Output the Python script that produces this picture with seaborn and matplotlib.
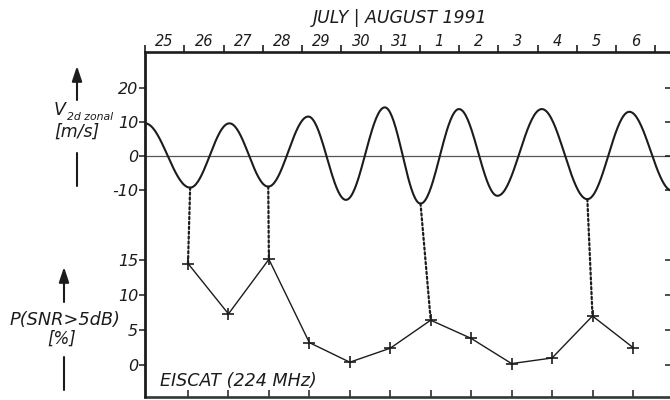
import numpy as np
import pandas as pd
import matplotlib
matplotlib.use("Agg")
import matplotlib.pyplot as plt
import seaborn as sns
from matplotlib.patches import ConnectionPatch, FancyArrowPatch
from matplotlib.lines import Line2D

# ---------------- data ----------------
day_labels = ["25", "26", "27", "28", "29", "30", "31", "1", "2", "3", "4", "5", "6"]
# extrema of the 2-day-wave zonal wind (days after 25 July 00 UT, m/s)
ext_day = [0.00, 1.15, 2.15, 3.14, 4.16, 5.12, 6.11, 7.02, 8.00, 8.98, 10.11, 11.27, 12.34, 13.43]
ext_val = [9.6, -9.3, 9.6, -9.0, 11.6, -12.9, 14.3, -14.0, 13.8, -11.7, 13.8, -12.7, 13.0, -10.2]
# daily EISCAT occurrence P(SNR>5dB) in %
p_index = [1, 2, 3, 4, 5, 6, 7, 8, 9, 10, 11, 12]
p_val = [14.5, 7.3, 15.1, 3.2, 0.4, 2.4, 6.4, 3.8, 0.2, 1.0, 7.0, 2.5]
# dotted links: (wave extremum index, P point index)
links = [(1, 0), (3, 2), (7, 6), (11, 10)]
v_ticks = [20, 10, 0, -10]
p_ticks = [15, 10, 5, 0]

# smooth curve through the read extrema (half-cosine segments)
t_list, v_list = [], []
for i in range(len(ext_day) - 1):
    s = np.linspace(0, 1, 40, endpoint=False)
    t_list.append(ext_day[i] + s * (ext_day[i + 1] - ext_day[i]))
    v_list.append(ext_val[i] + (ext_val[i + 1] - ext_val[i]) * (1 - np.cos(np.pi * s)) / 2)
t_list.append([ext_day[-1]]); v_list.append([ext_val[-1]])
wave = pd.DataFrame({"day": np.concatenate(t_list), "v": np.concatenate(v_list)})
pdf = pd.DataFrame({"idx": p_index, "p": p_val})

# ---------------- figure ----------------
sns.set_theme(style="white")
plt.rcParams["font.family"] = ["DejaVu Sans"]
plt.rcParams["font.style"] = "italic"
INK = "#1c1c1c"

W, H = 670, 400
fig = plt.figure(figsize=(6.7, 4.0), dpi=100)
fig.patch.set_facecolor("white")

def fx(x):
    return x / W

def fy(y):
    return 1 - y / H

L, R, T, M, B = 145, 672, 52, 222, 397
ax_top = fig.add_axes([fx(L), fy(M), (R - L) / W, (M - T) / H])
ax_bot = fig.add_axes([fx(L), fy(B), (R - L) / W, (B - M) / H])

# scales
ax_top.set_xlim(0, (R - L) / 39.25)
ax_top.set_ylim(-(M - 156) / 3.4, (156 - T) / 3.4)
ax_bot.set_xlim(1 - 43 / 40.45, 1 + (R - 188) / 40.45)
ax_bot.set_ylim(-(B - 365) / 7.0, (365 - M) / 7.0)

for ax in (ax_top, ax_bot):
    ax.set_facecolor("none")
    for sp in ax.spines.values():
        sp.set_color(INK)
        sp.set_linewidth(1.9)
    ax.spines["left"].set_visible(False)
ax_top.spines["bottom"].set_visible(False)
ax_bot.spines["top"].set_visible(False)
ax_bot.spines["bottom"].set_color("#2e3a33")
# one continuous left frame line
fig.add_artist(Line2D([fx(L), fx(L)], [fy(T - 1), fy(B + 1)], transform=fig.transFigure,
                      color=INK, lw=2.0, solid_capstyle="butt"))

# zero line and wave
ax_top.axhline(0, color="#555555", lw=0.9, zorder=1)
sns.lineplot(data=wave, x="day", y="v", ax=ax_top, color=INK, lw=1.5, zorder=3)

# P curve
sns.lineplot(data=pdf, x="idx", y="p", ax=ax_bot, color=INK, lw=1.0,
             marker="+", markersize=8, markeredgewidth=1.2, markeredgecolor=INK, zorder=3)

# dotted connections
for ei, pi in links:
    con = ConnectionPatch(xyA=(ext_day[ei], ext_val[ei]), coordsA=ax_top.transData,
                          xyB=(p_index[pi], p_val[pi]), coordsB=ax_bot.transData,
                          linestyle=(0, (1, 1.2)), lw=1.6, color=INK, zorder=2)
    fig.add_artist(con)

# top date axis
ax_top.xaxis.tick_top()
ax_top.set_xticks(range(0, 14))
ax_top.set_xticks([i + 0.5 for i in range(len(day_labels))], minor=True)
ax_top.set_xticklabels([], minor=False)
ax_top.set_xticklabels(day_labels, minor=True)
ax_top.tick_params(axis="x", which="major", direction="out", length=5, width=1.2,
                   color=INK, top=True, bottom=False)
ax_top.tick_params(axis="x", which="minor", length=0, pad=2, labelsize=10.5,
                   labelcolor=INK, top=True, bottom=False, labeltop=True)
ax_top.set_xlabel(""); ax_top.set_ylabel("")

ax_top.set_yticks(v_ticks)
ax_top.set_yticklabels([str(v) for v in v_ticks])
ax_top.tick_params(axis="y", direction="out", length=4, width=1.1, color=INK,
                   labelsize=11.5, labelcolor=INK, pad=1, left=True)

ax_bot.set_xticks(p_index)
ax_bot.set_xticklabels([])
ax_bot.tick_params(axis="x", direction="in", length=5, width=1.1, color=INK, bottom=True)
ax_bot.set_yticks(p_ticks)
ax_bot.set_yticklabels([str(v) for v in p_ticks])
ax_bot.tick_params(axis="y", direction="out", length=4, width=1.1, color=INK,
                   labelsize=11.5, labelcolor=INK, pad=1, left=True)
ax_bot.set_xlabel(""); ax_bot.set_ylabel("")

# right-hand inward ticks
for ax, tk in ((ax_top, v_ticks), (ax_bot, p_ticks)):
    tw = ax.twinx()
    tw.set_ylim(ax.get_ylim())
    tw.set_yticks(tk)
    tw.set_yticklabels([])
    tw.tick_params(axis="y", direction="in", length=5, width=1.1, color=INK)
    for sp in tw.spines.values():
        sp.set_visible(False)
    tw.grid(False)

for ax in (ax_top, ax_bot):
    ax.grid(False)
    for lab in ax.get_xticklabels(minor=True) + ax.get_yticklabels():
        lab.set_fontstyle("italic")

# texts
fig.text(fx(400), fy(18), "JULY | AUGUST 1991", ha="center", va="center",
         fontsize=12.4, style="italic", color=INK)
fig.text(fx(160), fy(381), "EISCAT (224 MHz)", ha="left", va="center",
         fontsize=12.6, style="italic", color=INK)

fig.text(fx(60), fy(110), "V", ha="center", va="center", fontsize=12.5, style="italic", color=INK)
fig.text(fx(67), fy(117), "2d zonal", ha="left", va="center", fontsize=7.8, style="italic", color=INK)
fig.text(fx(77), fy(132), "[m/s]", ha="center", va="center", fontsize=12.5, style="italic", color=INK)
fig.text(fx(65), fy(320), "P(SNR>5dB)", ha="center", va="center", fontsize=12.8, style="italic", color=INK)
fig.text(fx(62), fy(339), "[%]", ha="center", va="center", fontsize=12, style="italic", color=INK)

arrow_kw = dict(arrowstyle="-|>,head_length=0.45,head_width=0.15", color=INK, lw=1.5,
                mutation_scale=20, shrinkA=0, shrinkB=0)
fig.add_artist(FancyArrowPatch((fx(77), fy(100)), (fx(77), fy(66)),
               transform=fig.transFigure, **arrow_kw))
fig.add_artist(Line2D([fx(77), fx(77)], [fy(153), fy(186)],
               transform=fig.transFigure, color=INK, lw=1.5))
fig.add_artist(FancyArrowPatch((fx(64), fy(302)), (fx(64), fy(267)),
               transform=fig.transFigure, **arrow_kw))
fig.add_artist(Line2D([fx(64), fx(64)], [fy(357), fy(390)],
               transform=fig.transFigure, color=INK, lw=1.5))

fig.savefig("out.png", dpi=100, facecolor="white")
